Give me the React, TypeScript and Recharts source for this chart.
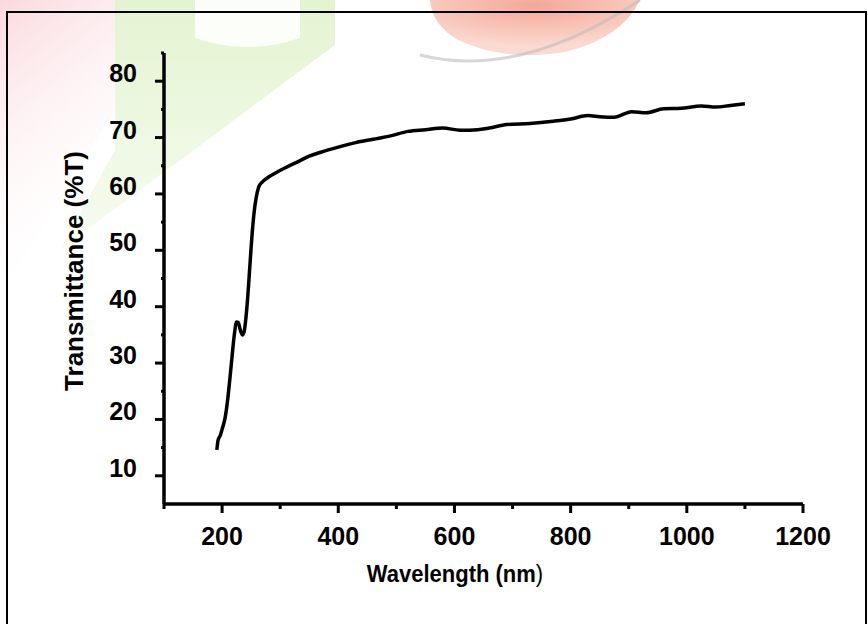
import React from 'react';
import { LineChart, Line, XAxis, YAxis } from 'recharts';

const wavelength = [
  191, 193, 197, 201, 205, 209, 213, 217, 221, 225, 228, 231, 235, 238, 241, 244, 247, 250, 253, 256, 259, 263,
  270, 280, 295, 310, 330, 350, 370, 400, 430, 460, 490, 520, 550, 580, 610, 640, 660, 690, 730, 770, 800, 830,
  850, 875, 905, 930, 960, 990, 1025, 1050, 1075, 1100,
];
const transmittance = [
  14.6, 16.3, 17.2, 18.6, 20.2, 23.0, 26.8, 31.0, 35.0, 37.3, 37.2, 36.0, 35.0, 35.6, 38.0, 41.5, 46.0, 50.5, 54.5,
  57.5, 59.5, 61.2, 62.2, 63.0, 63.9, 64.7, 65.7, 66.7, 67.4, 68.3, 69.1, 69.7, 70.3, 71.1, 71.4, 71.7, 71.3, 71.4,
  71.7, 72.3, 72.5, 72.9, 73.3, 73.9, 73.7, 73.6, 74.6, 74.4, 75.1, 75.2, 75.6, 75.4, 75.7, 76.0,
];
const xTicks = [100, 200, 300, 400, 500, 600, 700, 800, 900, 1000, 1100, 1200];
const xLabelTicks = [200, 400, 600, 800, 1000, 1200];
const yTicks = [5, 10, 15, 20, 25, 30, 35, 40, 45, 50, 55, 60, 65, 70, 75, 80, 85];
const yLabelTicks = [10, 20, 30, 40, 50, 60, 70, 80];

const data = wavelength.map((w, i) => ({ w, t: transmittance[i] }));

const FONT = '"Liberation Sans", Arial, sans-serif';

const XTick = (props: any) => {
  const { x, y, payload } = props;
  const v = payload.value;
  const major = xLabelTicks.includes(v);
  return (
    <g>
      <line x1={x} x2={x} y1={y} y2={y + (major ? 9 : 5)} stroke="#000" strokeWidth={3} />
      {major && (
        <text x={x} y={y + 41} textAnchor="middle" fontFamily={FONT} fontWeight="bold" fontSize={25} fill="#000">
          {v}
        </text>
      )}
    </g>
  );
};

const YTick = (props: any) => {
  const { x, y, payload } = props;
  const v = payload.value;
  const major = yLabelTicks.includes(v);
  if (v === 5) return <g />;
  return (
    <g>
      <line x1={x - (major ? 9 : 3)} x2={x} y1={y} y2={y} stroke="#000" strokeWidth={3} />
      {major && (
        <text x={x - 27} y={y + 1} textAnchor="end" fontFamily={FONT} fontWeight="bold" fontSize={25} fill="#000">
          {v}
        </text>
      )}
    </g>
  );
};

const Background = () => (
  <svg width={868} height={624} style={{ position: 'absolute', left: 0, top: 0 }}>
    <defs>
      <linearGradient id="pinkg" x1="0" y1="0" x2="0.3" y2="1">
        <stop offset="0" stopColor="#f9ccd2" />
        <stop offset="1" stopColor="#ffffff" stopOpacity="0" />
      </linearGradient>
      <linearGradient id="greeng" x1="0" y1="0" x2="0" y2="1">
        <stop offset="0" stopColor="#d8efbd" />
        <stop offset="1" stopColor="#f3faea" />
      </linearGradient>
      <radialGradient id="redg" cx="0.5" cy="0.1" r="0.75">
        <stop offset="0" stopColor="#ee6d52" />
        <stop offset="1" stopColor="#f8c2b2" />
      </radialGradient>
    </defs>
    <rect x={0} y={0} width={868} height={624} fill="#fff" />
    <path d="M0,0 L115,0 L115,110 L40,230 L0,300 Z" fill="url(#pinkg)" opacity={0.75} />
    <path d="M115,0 L335,0 L335,45 L140,190 L60,250 L115,150 Z" fill="url(#greeng)" opacity={0.7} />
    <path d="M195,0 L300,0 L300,38 Q248,56 195,38 Z" fill="#ffffff" opacity={0.85} />
    <path d="M430,0 L640,0 Q622,38 565,52 Q505,62 458,40 Q432,25 430,0 Z" fill="url(#redg)" opacity={0.6} />
    <path d="M420,55 Q520,80 640,0" fill="none" stroke="#bdbdbd" strokeWidth={3} opacity={0.6} />
  </svg>
);

export default function App() {
  return (
    <div style={{ position: 'absolute', left: 0, top: 0, width: 868, height: 624, background: '#fff' }}>
      <Background />
      <svg width={868} height={624} style={{ position: 'absolute', left: 0, top: 0 }}>
        <rect x={7} y={12} width={859} height={700} fill="none" stroke="#000" strokeWidth={2} />
      </svg>
      <div style={{ position: 'absolute', left: 0, top: 0 }}>
        <LineChart width={868} height={624} data={data} margin={{ top: 53, right: 65, left: 104, bottom: 90 }}>
          <XAxis
            dataKey="w"
            type="number"
            domain={[100, 1200]}
            ticks={xTicks}
            interval={0}
            tickSize={0}
            tickMargin={0}
            tick={<XTick />}
            axisLine={{ stroke: '#000', strokeWidth: 3.5 }}
            tickLine={false}
            height={30}
            allowDataOverflow
          />
          <YAxis
            type="number"
            domain={[5, 85]}
            ticks={yTicks}
            interval={0}
            tickSize={0}
            tickMargin={0}
            tick={<YTick />}
            axisLine={{ stroke: '#000', strokeWidth: 3.5 }}
            tickLine={false}
            width={60}
            allowDataOverflow
          />
          <Line
            type="monotone"
            dataKey="t"
            stroke="#000"
            strokeWidth={3.5}
            dot={false}
            isAnimationActive={false}
          />
        </LineChart>
      </div>
      <svg width={868} height={624} style={{ position: 'absolute', left: 0, top: 0, pointerEvents: 'none' }}>
        <text
          x={0}
          y={0}
          transform="translate(455,582) scale(1,1.12)"
          textAnchor="middle"
          fontFamily={FONT}
          fontWeight="bold"
          fontSize={22}
          fill="#000"
        >
          Wavelength (nm<tspan fontWeight="normal">)</tspan>
        </text>
        <text
          x={83}
          y={271}
          textAnchor="middle"
          transform="rotate(-90, 83, 271)"
          fontFamily={FONT}
          fontWeight="bold"
          fontSize={26}
          fill="#000"
        >
          Transmittance (%T)
        </text>
      </svg>
    </div>
  );
}
